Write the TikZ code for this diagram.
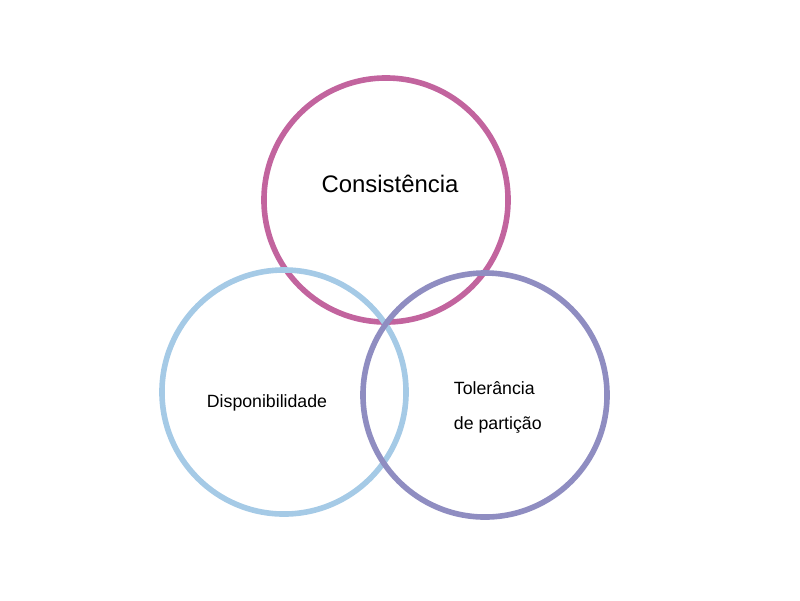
\documentclass[tikz,border=0pt]{standalone}
\usepackage{fontspec}
\setmainfont{Liberation Sans}
\usepackage{tikz}
\usetikzlibrary{positioning}
\definecolor{rosa}{HTML}{C2649E}
\definecolor{azul}{HTML}{A5CAE6}
\definecolor{roxo}{HTML}{8F8DC1}

\begin{document}
\begin{tikzpicture}[x=0.025cm,y=-0.025cm,
  ring/.style={circle,line width=0.14cm,minimum size=6.1cm,inner sep=0pt}]
\useasboundingbox (0,0) rectangle (800,600);
% os tres circulos
\node[ring,draw=rosa] (cons) at (386,200) {};
\node[ring,draw=azul] (disp) at (284,392) {};
\node[ring,draw=roxo] (tol)  at (485,395) {};
% rotulos
\node[font=\fontsize{17}{20}\selectfont] (lcons) at (390,184) {Consistência};
\node[font=\fontsize{12.6}{15}\selectfont] (ldisp) at (267,403) {Disponibilidade};
\node[font=\fontsize{12.6}{24.8}\selectfont,align=left,anchor=west] (ltol) at (449,407)
  {Tolerância\\de partição};
\end{tikzpicture}
\end{document}
